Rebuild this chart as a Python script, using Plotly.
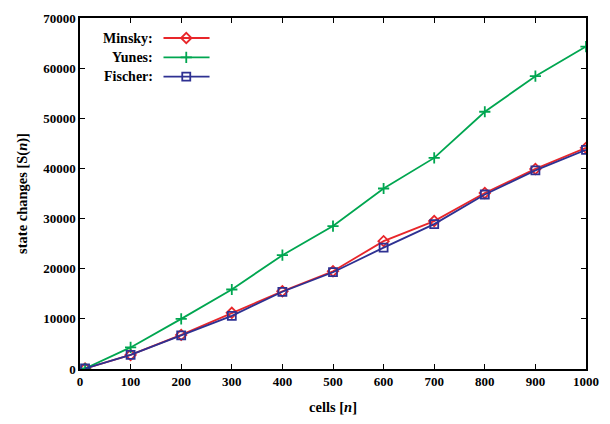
import plotly.graph_objects as go

cells = [10, 100, 200, 300, 400, 500, 600, 700, 800, 900, 1000]
minsky = [100, 2800, 6800, 11200, 15500, 19500, 25500, 29500, 35100, 39900, 44100]
yunes = [100, 4300, 10000, 15850, 22700, 28500, 36000, 42100, 51300, 58400, 64300]
fischer = [100, 2800, 6700, 10600, 15400, 19300, 24200, 28900, 34800, 39600, 43700]

x_ticks = list(range(0, 1001, 100))
y_ticks = list(range(0, 70001, 10000))

names = ["Minsky:", "Yunes:", "Fischer:"]
colors = ["#e8262a", "#00a650", "#2e3192"]
symbols = ["diamond-open", "cross-thin-open", "square-open"]
series = [minsky, yunes, fischer]

FONT = "Liberation Serif"
fig = go.Figure()
for s, c, sym in zip(series, colors, symbols):
    fig.add_trace(go.Scatter(x=cells, y=s, mode="lines+markers",
                             line=dict(color=c, width=1.8),
                             marker=dict(symbol=sym, size=8, color=c,
                                         line=dict(width=1.8, color=c)),
                             showlegend=False))

# custom legend (text then sample), on an overlay axis in paper-like units
leg_y = [0.943, 0.888, 0.833]
for nm, c, sym, ly in zip(names, colors, symbols, leg_y):
    fig.add_trace(go.Scatter(x=[0.165, 0.256], y=[ly, ly], mode="lines",
                             line=dict(color=c, width=1.8), xaxis="x2", yaxis="y2",
                             showlegend=False, hoverinfo="skip"))
    fig.add_trace(go.Scatter(x=[0.21], y=[ly], mode="markers",
                             marker=dict(symbol=sym, size=8, color=c,
                                         line=dict(width=1.8, color=c)),
                             xaxis="x2", yaxis="y2", showlegend=False, hoverinfo="skip"))
    fig.add_annotation(x=0.148, y=ly, xref="paper", yref="paper", text=nm,
                       showarrow=False, xanchor="right", yanchor="middle",
                       font=dict(family=FONT, size=14, color="black", weight="bold"))

axis_common = dict(showline=True, linecolor="black", linewidth=1.5, mirror="ticks",
                   ticks="inside", ticklen=5, tickwidth=1.2, tickcolor="black",
                   showgrid=False, zeroline=False,
                   tickfont=dict(family=FONT, size=13, color="black", weight="bold"))

fig.update_layout(
    width=610, height=424,
    margin=dict(l=80, r=15, t=11, b=51),
    paper_bgcolor="white", plot_bgcolor="white",
    xaxis=dict(range=[0, 1000], tickvals=x_ticks, ticktext=[str(v) for v in x_ticks],
               title=dict(text="cells [<i>n</i>]", standoff=14,
                          font=dict(family=FONT, size=14.5, color="black", weight="bold")),
               **axis_common),
    yaxis=dict(range=[0, 70000], tickvals=y_ticks, ticktext=[str(v) for v in y_ticks],
               title=dict(text="state changes [S(<i>n</i>)]", standoff=12,
                          font=dict(family=FONT, size=14.5, color="black", weight="bold")),
               **axis_common),
    xaxis2=dict(range=[0, 1], overlaying="x", visible=False, fixedrange=True),
    yaxis2=dict(range=[0, 1], overlaying="y", visible=False, fixedrange=True),
)

fig.write_html("out.html", config={"displayModeBar": False},
               post_script="document.body.style.margin='0';document.body.style.overflow='hidden';")
